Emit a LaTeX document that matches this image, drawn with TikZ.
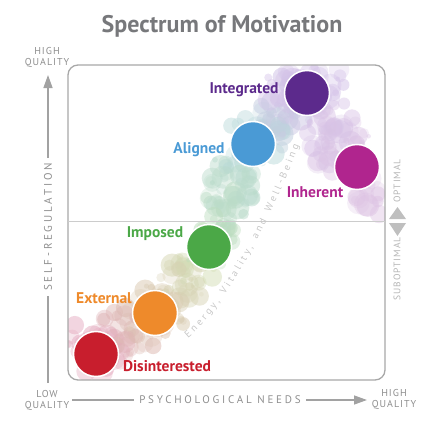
\documentclass[tikz,border=0pt]{standalone}
\usepackage{fontspec}
\setmainfont{PT Sans}
\newfontfamily\axfont[LetterSpace=25]{PT Sans}
\newfontfamily\qfont[LetterSpace=10]{PT Sans}
\usetikzlibrary{calc,decorations.text,arrows.meta}
\definecolor{axisgray}{HTML}{A2A2A2}
\definecolor{axtext}{HTML}{8E8E8E}
\definecolor{lightax}{HTML}{B4B4B4}
\definecolor{titlegray}{HTML}{77787B}
\definecolor{framegray}{HTML}{A8A8A8}
\definecolor{cRed}{HTML}{C81E2D}
\definecolor{cOrange}{HTML}{EE8A2B}
\definecolor{cGreen}{HTML}{4BA847}
\definecolor{cBlue}{HTML}{4A9AD5}
\definecolor{cPurple}{HTML}{5C2A8C}
\definecolor{cMagenta}{HTML}{B0258E}
\definecolor{bPink}{HTML}{E3A6BC}
\definecolor{bTan}{HTML}{D9C6AE}
\definecolor{bYel}{HTML}{D2E0B6}
\definecolor{bGreen}{HTML}{BCDDB8}
\definecolor{bCyan}{HTML}{B8D9DA}
\definecolor{bLav}{HTML}{D4C2E8}
\definecolor{bLavP}{HTML}{DDC3E3}
\newcommand\mybubbles[6]{%
  \foreach \k in {1,...,#5}{%
    \pgfmathsetmacro\bt{rnd}%
    \pgfmathsetmacro\bdx{#6*rand}%
    \pgfmathsetmacro\bdy{#6*rand}%
    \pgfmathsetmacro\brad{2+10*rnd}%
    \pgfmathsetmacro\bo{0.25+0.3*rnd}%
    \pgfmathtruncatemacro\bp{100*\bt}%
    \fill[fill=#4!\bp!#3, fill opacity=\bo] ($(#1)!\bt!(#2)+(\bdx,\bdy)$) circle[radius=\brad];
  }}
\tikzset{
  bigdot/.style={circle, draw=white, line width=1.5pt, minimum size=45pt, inner sep=0pt},
  lab/.style={font=\bfseries\fontsize{15.5}{18}\selectfont, inner sep=0pt},
  axtxt/.style={font=\axfont\fontsize{11}{13}\selectfont, text=axtext, inner sep=5pt},
  qtxt/.style={font=\qfont\fontsize{10}{11}\selectfont, text=axtext, align=center, inner sep=0pt},
  optxt/.style={font=\qfont\fontsize{9.5}{11}\selectfont, text=lightax, inner sep=0pt, rotate=90},
  axline/.style={draw=axisgray, line width=1.4pt},
}
\begin{document}
\begin{tikzpicture}[x=1pt, y=-1pt]
\useasboundingbox (0,0) rectangle (447,436);
\coordinate (R) at (96,354);
\coordinate (O) at (155,313);
\coordinate (G) at (209,247);
\coordinate (B) at (253,144);
\coordinate (P) at (307,93);
\coordinate (M) at (357,167);
\coordinate (E) at (370,205);
\coordinate (R0) at (78,338);
\coordinate (P0) at (276,90);
\coordinate (P1) at (342,78);
% bubbles
\begin{scope}
\clip[rounded corners=10] (68,65) rectangle (385,380);
\pgfmathsetseed{7}
\mybubbles{R0}{R}{bPink}{bPink}{22}{17}
\mybubbles{R}{O}{bPink}{bTan}{65}{22}
\mybubbles{O}{G}{bTan}{bYel}{65}{23}
\mybubbles{G}{B}{bGreen}{bCyan}{90}{23}
\mybubbles{B}{P}{bCyan}{bLav}{65}{23}
\mybubbles{P0}{P1}{bLav}{bLav}{45}{16}
\mybubbles{P}{M}{bLav}{bLavP}{75}{24}
\mybubbles{M}{E}{bLavP}{bLavP}{30}{13}
\end{scope}
% frame and midline
\draw[framegray, line width=1.3pt, rounded corners=10] (68,65) rectangle (385,380);
\coordinate (ml) at (68,221);
\coordinate (mr) at (385,221);
\draw[draw=black!20, line width=0.8pt] (ml) -- (mr);
% title
\node[font=\bfseries\fontsize{24}{28}\selectfont, text=titlegray] (title) at (222,26) {Spectrum of Motivation};
% left axis
\node[axtxt, rotate=90] (sr) at (48,227) {SELF-REGULATION};
\coordinate (lb) at (48,383);
\coordinate (lt) at (48,75);
\draw[axline] (lb) -- (sr.west);
\draw[axline, -{Triangle[length=13pt, width=9pt]}] (sr.east) -- (lt);
\node[qtxt] (hq1) at (47,57) {HIGH\\QUALITY};
\node[qtxt] (lq) at (47,400) {LOW\\QUALITY};
% bottom axis
\node[axtxt] (pn) at (220,400) {PSYCHOLOGICAL NEEDS};
\coordinate (bl) at (72,400);
\coordinate (br) at (367,400);
\draw[axline] (bl) -- (pn.west);
\draw[axline, -{Triangle[length=13pt, width=9pt]}] (pn.east) -- (br);
\node[qtxt] (hq2) at (394,399) {HIGH\\QUALITY};
% right marker
\fill[black!25] (389,219) -- (406,219) -- (397.5,207) -- cycle;
\fill[black!25] (389,223) -- (406,223) -- (397.5,236) -- cycle;
\node[optxt] (opt) at (397,181) {OPTIMAL};
\node[optxt] (sub) at (397,269) {SUBOPTIMAL};
% energy text
\path[decorate, decoration={text along path, text align={fit to path},
  text={|\fontsize{10}{11}\selectfont\color{black!22}|Energy, Vitality, and Well-Being}}]
  (188,338) .. controls (222,310) and (262,240) .. (299,146);
% main circles
\node[bigdot, fill=cRed] (dis) at (R) {};
\node[bigdot, fill=cOrange] (ext) at (O) {};
\node[bigdot, fill=cGreen] (imp) at (G) {};
\node[bigdot, fill=cBlue] (ali) at (B) {};
\node[bigdot, fill=cPurple] (int) at (P) {};
\node[bigdot, fill=cMagenta] (inh) at (M) {};
% labels
\node[lab, text=cRed] (disl) at (167,366) {Disinterested};
\node[lab, text=cOrange] (extl) at (104,298) {External};
\node[lab, text=cGreen] (impl) at (155,234) {Imposed};
\node[lab, text=cBlue] (alil) at (199,150) {Aligned};
\node[lab, text=cPurple] (intl) at (244,90) {Integrated};
\node[lab, text=cMagenta] (inhl) at (315,192) {Inherent};
\end{tikzpicture}
\end{document}
